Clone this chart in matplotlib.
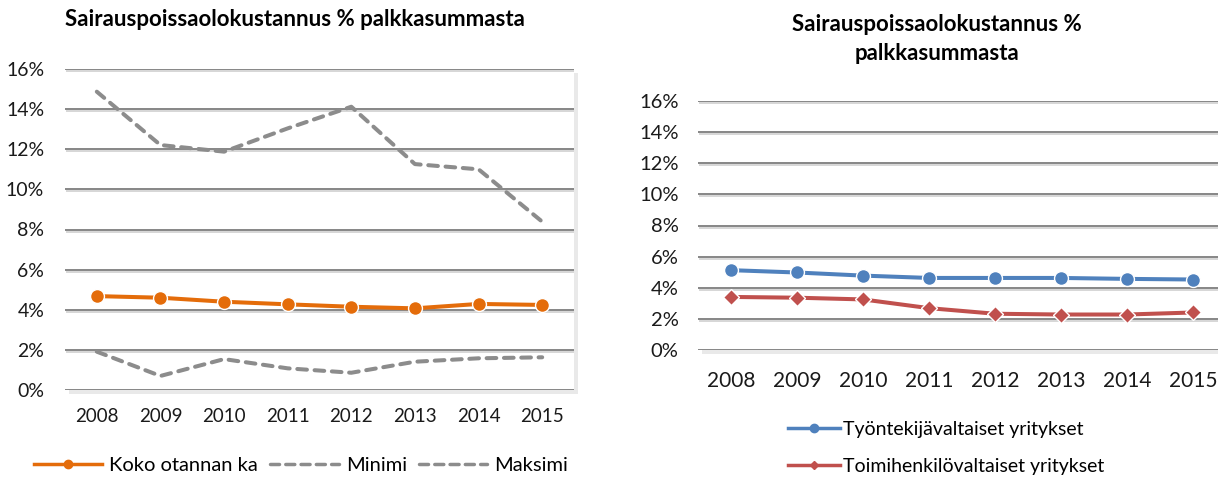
import matplotlib
matplotlib.use("Agg")
import matplotlib.pyplot as plt
import matplotlib.patheffects as pe
from matplotlib.ticker import FuncFormatter
from matplotlib.lines import Line2D
import numpy as np

plt.rcParams['font.family'] = ['Lato', 'DejaVu Sans']

years = ['2008', '2009', '2010', '2011', '2012', '2013', '2014', '2015']

# left chart
koko = [4.68, 4.60, 4.40, 4.27, 4.15, 4.07, 4.29, 4.24]
minimi = [1.91, 0.70, 1.54, 1.08, 0.86, 1.41, 1.58, 1.63]
maksimi = [14.87, 12.21, 11.88, 13.04, 14.12, 11.26, 11.00, 8.39]

# right chart
tyontekija = [5.13, 4.98, 4.78, 4.63, 4.63, 4.63, 4.57, 4.53]
toimihenkilo = [3.41, 3.36, 3.25, 2.69, 2.33, 2.28, 2.28, 2.41]

title = 'Sairauspoissaolokustannus % palkkasummasta'

orange = '#E46C0A'
gray = '#8C8C8C'
blue = '#4F81BD'
red = '#C0504D'
gridc = '#868686'
txt = '#1a1a1a'

W, H = 1218, 478
fig = plt.figure(figsize=(W/100, H/100), dpi=100)
ax1 = fig.add_axes([65/W, 1-390/H, (574-65)/W, (390-69)/H])
ax2 = fig.add_axes([698/W, 1-350/H, (1226-698)/W, (350-101)/H])

shadow = [pe.SimpleLineShadow(offset=(1.5, -1.5), shadow_color='#bbbbbb', alpha=0.6), pe.Normal()]

pct = FuncFormatter(lambda v, p: '%d%%' % v)
x = np.arange(len(years))

for ax in (ax1, ax2):
    ax.set_xlim(-0.5, len(years) - 0.5)
    ax.set_ylim(0, 16)
    ax.set_yticks(range(0, 17, 2))
    ax.yaxis.set_major_formatter(pct)
    ax.set_xticks(x)
    ax.set_xticklabels(years)
    for s in ax.spines.values():
        s.set_visible(False)
    ax.tick_params(length=0)
    ax.patch.set_path_effects([pe.SimplePatchShadow(offset=(3, -3), shadow_rgbFace='#aaaaaa', alpha=0.25),
                               pe.Normal()])
    for t in range(0, 17, 2):
        ax.axhline(t, color=gridc, lw=1.4, zorder=1, path_effects=shadow)

ax1.tick_params(axis='x', labelsize=13.5, pad=13, colors=txt)
ax1.tick_params(axis='y', labelsize=14, pad=15, colors=txt)
ax2.tick_params(axis='x', labelsize=15, pad=15, colors=txt)
ax2.tick_params(axis='y', labelsize=14.5, pad=14, colors=txt)

dash = (0, (2.4, 1.9))
ax1.plot(x, maksimi, color=gray, lw=2.9, ls=dash, dash_capstyle='round', zorder=3)
ax1.plot(x, minimi, color=gray, lw=2.9, ls=dash, dash_capstyle='round', zorder=3)
ax1.plot(x, koko, color=orange, lw=2.9, marker='o', ms=10, mec='white', mew=1, zorder=4)

ax2.plot(x, tyontekija, color=blue, lw=2.9, marker='o', ms=10, mec='white', mew=1, zorder=4)
ax2.plot(x, toimihenkilo, color=red, lw=2.9, marker='D', ms=8, mec='white', mew=1, zorder=4)

fig.text(295/W, 1-19/H, title, ha='center', va='center', fontsize=16, fontweight='bold')
fig.text(937/W, 1-39/H, 'Sairauspoissaolokustannus %\npalkkasummasta', ha='center', va='center',
         fontsize=16, fontweight='bold', linespacing=1.45)

ldash = (0, (2.6, 1.8))
h1 = [Line2D([], [], color=orange, lw=2.5, marker='o', ms=6, mec=orange),
      Line2D([], [], color=gray, lw=2.5, ls=ldash, dash_capstyle='round'),
      Line2D([], [], color=gray, lw=2.5, ls=ldash, dash_capstyle='round')]
fig.legend(h1, ['Koko otannan ka', 'Minimi', 'Maksimi'], loc='center', bbox_to_anchor=(301/W, 1-465/H),
           ncol=3, frameon=False, fontsize=14.5, handlelength=3.4, handletextpad=0.35, columnspacing=0.6)

h2 = [Line2D([], [], color=blue, lw=2.5, marker='o', ms=6, mec=blue),
      Line2D([], [], color=red, lw=2.5, marker='D', ms=4.5, mec=red)]
fig.legend(h2, ['Työntekijävaltaiset yritykset', 'Toimihenkilövaltaiset yritykset'], loc='center left',
           bbox_to_anchor=(770/W, 1-448/H), ncol=1, frameon=False, fontsize=14,
           handlelength=2.7, handletextpad=0.15, labelspacing=1.0)

fig.savefig('out.png', dpi=100)
